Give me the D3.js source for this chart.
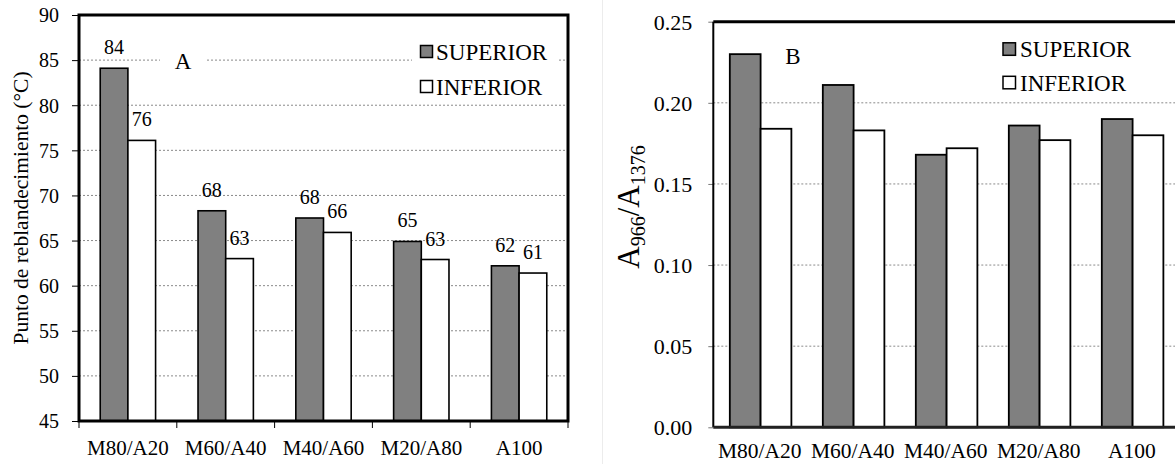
<!DOCTYPE html>
<html><head><meta charset="utf-8">
<script src="https://cdn.jsdelivr.net/npm/d3@7"></script>
<style>
body{margin:0;background:#fff}
svg{display:block}
</style>
</head><body>
<svg id="c" width="1175" height="464" font-family="'Liberation Serif', 'Times New Roman', serif"></svg>
<script>
const categories = ["M80/A20","M60/A40","M40/A60","M20/A80","A100"];
const seriesNames = ["SUPERIOR","INFERIOR"];
const softeningSuperior = [84.1,68.3,67.5,64.9,62.2];
const softeningInferior = [76.1,63.0,65.9,62.9,61.4];
const softeningLabelsSup = ["84","68","68","65","62"];
const softeningLabelsInf = ["76","63","66","63","61"];
const ratioSuperior = [0.230,0.211,0.168,0.186,0.190];
const ratioInferior = [0.184,0.183,0.172,0.177,0.180];
const softeningTicks = [45,50,55,60,65,70,75,80,85,90];
const ratioTicks = [0,0.05,0.10,0.15,0.20,0.25];
const panelLetters = ["A","B"];
const titleA = "Punto de reblandecimiento (°C)";

const FONT = "'Liberation Serif', 'Times New Roman', serif";
const GRAY = "#808080";
const svg = d3.select("#c");
svg.append("rect").attr("width",1175).attr("height",464).attr("fill","#fff");
svg.append("line").attr("x1",602.5).attr("x2",602.5).attr("y1",0).attr("y2",464)
  .attr("stroke","#ececec").attr("stroke-width",1);

/* ---------------- Panel A ---------------- */
const A = {l:79, r:568, t:15, b:421};
const xA = d3.scaleBand().domain(categories).range([A.l, A.r]);
const yA = d3.scaleLinear().domain([45,90]).range([A.b, A.t]);
const gA = svg.append("g");

gA.selectAll("line.grid").data(softeningTicks.filter(t=>t>45&&t<90)).join("line")
  .attr("class","grid")
  .attr("x1",A.l).attr("x2",A.r).attr("y1",d=>yA(d)).attr("y2",d=>yA(d))
  .attr("stroke","#8a8a8a").attr("stroke-width",1).attr("stroke-dasharray","2,2");

gA.append("rect").attr("x",160).attr("y",44).attr("width",46).attr("height",32).attr("fill","#fff");
gA.append("rect").attr("x",412).attr("y",35).attr("width",145).attr("height",65).attr("fill","#fff");

const bwA = xA.bandwidth(), barWA = bwA*0.283;
const dataA = categories.map((c,i)=>({c, sup:softeningSuperior[i], inf:softeningInferior[i], ls:softeningLabelsSup[i], li:softeningLabelsInf[i]}));
gA.selectAll("rect.sup").data(dataA).join("rect").attr("class","sup")
  .attr("x",d=>xA(d.c)+bwA/2-barWA).attr("y",d=>yA(d.sup))
  .attr("width",barWA).attr("height",d=>yA(45)-yA(d.sup))
  .attr("fill",GRAY).attr("stroke","#000").attr("stroke-width",1.6);
gA.selectAll("rect.inf").data(dataA).join("rect").attr("class","inf")
  .attr("x",d=>xA(d.c)+bwA/2).attr("y",d=>yA(d.inf))
  .attr("width",barWA).attr("height",d=>yA(45)-yA(d.inf))
  .attr("fill","#fff").attr("stroke","#000").attr("stroke-width",1.6);

gA.selectAll("text.ls").data(dataA).join("text").attr("class","ls")
  .attr("x",d=>xA(d.c)+bwA/2-barWA/2).attr("y",d=>yA(d.sup)-14)
  .attr("text-anchor","middle").style("font-size","20px").text(d=>d.ls);
gA.selectAll("text.li").data(dataA).join("text").attr("class","li")
  .attr("x",d=>xA(d.c)+bwA/2+barWA/2).attr("y",d=>yA(d.inf)-14)
  .attr("text-anchor","middle").style("font-size","20px").text(d=>d.li);

const axA = gA.append("g").attr("transform",`translate(${A.l},0)`)
  .call(d3.axisLeft(yA).tickValues(softeningTicks).tickSize(7).tickPadding(13).tickFormat(d3.format("d")));
axA.attr("font-family",null).attr("font-size",null);
axA.select(".domain").remove();
axA.selectAll(".tick line").attr("stroke","#000");
axA.selectAll(".tick text").style("font-size","20px").attr("dy","0.34em");

const axAx = gA.append("g").attr("transform",`translate(0,${A.b})`)
  .call(d3.axisBottom(xA).tickSize(0).tickPadding(0));
axAx.attr("font-family",null).attr("font-size",null);
axAx.select(".domain").remove();
axAx.selectAll(".tick text").style("font-size","21px").attr("y",27).attr("dy","0.35em");
gA.selectAll("line.xt").data(categories.map(c=>xA(c)).concat([A.r])).join("line").attr("class","xt")
  .attr("x1",d=>d).attr("x2",d=>d).attr("y1",A.b).attr("y2",A.b+7).attr("stroke","#000");

gA.append("rect").attr("x",A.l).attr("y",A.t).attr("width",A.r-A.l).attr("height",A.b-A.t)
  .attr("fill","none").attr("stroke","#000").attr("stroke-width",3);

gA.append("text").attr("x",183).attr("y",61).attr("dy","0.35em").attr("text-anchor","middle")
  .style("font-size","23px").text(panelLetters[0]);

const legA = gA.append("g");
seriesNames.forEach((s,i)=>{
  const cy = 51.5 + i*35;
  legA.append("rect").attr("x",420.5).attr("y",cy-6).attr("width",12).attr("height",12)
    .attr("fill",i===0?GRAY:"#fff").attr("stroke","#000").attr("stroke-width",1.5);
  legA.append("text").attr("x",436).attr("y",cy).attr("dy","0.35em").style("font-size","23px").text(s);
});

gA.append("text").attr("transform","translate(20,208) rotate(-90)").attr("text-anchor","middle")
  .attr("dy","0.35em").style("font-size","21.5px").text(titleA);

/* ---------------- Panel B ---------------- */
const B = {l:713.3, r:1178.3, t:21.7, b:427.3};
const xB = d3.scaleBand().domain(categories).range([B.l, B.r]);
const yB = d3.scaleLinear().domain([0,0.25]).range([B.b, B.t]);
const gB = svg.append("g");

gB.selectAll("line.grid").data(ratioTicks.filter(t=>t>0&&t<0.25)).join("line")
  .attr("class","grid")
  .attr("x1",B.l).attr("x2",B.r).attr("y1",d=>yB(d)).attr("y2",d=>yB(d))
  .attr("stroke","#8a8a8a").attr("stroke-width",1).attr("stroke-dasharray","2,2");

const bwB = xB.bandwidth(), barWB = bwB*0.331;
const dataB = categories.map((c,i)=>({c, sup:ratioSuperior[i], inf:ratioInferior[i]}));
gB.selectAll("rect.sup").data(dataB).join("rect").attr("class","sup")
  .attr("x",d=>xB(d.c)+bwB/2-barWB+0.8).attr("y",d=>yB(d.sup))
  .attr("width",barWB).attr("height",d=>yB(0)-yB(d.sup))
  .attr("fill",GRAY).attr("stroke","#000").attr("stroke-width",1.8);
gB.selectAll("rect.inf").data(dataB).join("rect").attr("class","inf")
  .attr("x",d=>xB(d.c)+bwB/2+0.8).attr("y",d=>yB(d.inf))
  .attr("width",barWB).attr("height",d=>yB(0)-yB(d.inf))
  .attr("fill","#fff").attr("stroke","#000").attr("stroke-width",1.8);

const axB = gB.append("g").attr("transform",`translate(${B.l},0)`)
  .call(d3.axisLeft(yB).tickValues(ratioTicks).tickSize(5).tickPadding(16).tickFormat(d3.format(".2f")));
axB.attr("font-family",null).attr("font-size",null);
axB.select(".domain").remove();
axB.selectAll(".tick line").attr("stroke","#777");
axB.selectAll(".tick text").style("font-size","22px").attr("dy","0.34em");

const axBx = gB.append("g").attr("transform",`translate(0,${B.b})`)
  .call(d3.axisBottom(xB).tickSize(0).tickPadding(0));
axBx.attr("font-family",null).attr("font-size",null);
axBx.select(".domain").remove();
axBx.selectAll(".tick text").style("font-size","21.5px").attr("y",23).attr("dy","0.35em");

gB.append("line").attr("x1",B.l).attr("x2",B.r).attr("y1",B.t).attr("y2",B.t).attr("stroke","#000").attr("stroke-width",3);
gB.append("line").attr("x1",B.l).attr("x2",B.l).attr("y1",B.t).attr("y2",B.b).attr("stroke","#000").attr("stroke-width",2);
gB.append("line").attr("x1",B.l).attr("x2",B.r).attr("y1",B.b).attr("y2",B.b).attr("stroke","#222").attr("stroke-width",3);
gB.append("line").attr("x1",B.r).attr("x2",B.r).attr("y1",B.t).attr("y2",B.b).attr("stroke","#000").attr("stroke-width",3);

gB.append("text").attr("x",793).attr("y",56).attr("dy","0.35em").attr("text-anchor","middle")
  .style("font-size","23px").text(panelLetters[1]);

const legB = gB.append("g");
seriesNames.forEach((s,i)=>{
  const cy = 49 + i*33.5;
  legB.append("rect").attr("x",1003).attr("y",cy-6.2).attr("width",12.5).attr("height",12.5)
    .attr("fill",i===0?GRAY:"#fff").attr("stroke","#000").attr("stroke-width",1.5);
  legB.append("text").attr("x",1020).attr("y",cy).attr("dy","0.35em").style("font-size","23px").text(s);
});

const tB = gB.append("text").attr("transform","translate(639,207) rotate(-90)").attr("text-anchor","middle")
  .style("font-size","31px");
tB.append("tspan").text("A");
tB.append("tspan").attr("dy",6).style("font-size","20px").text("966");
tB.append("tspan").attr("dy",-6).text("/A");
tB.append("tspan").attr("dy",6).style("font-size","20px").text("1376");

svg.selectAll("text").style("font-family",FONT).style("fill","#000");
</script>
</body></html>
